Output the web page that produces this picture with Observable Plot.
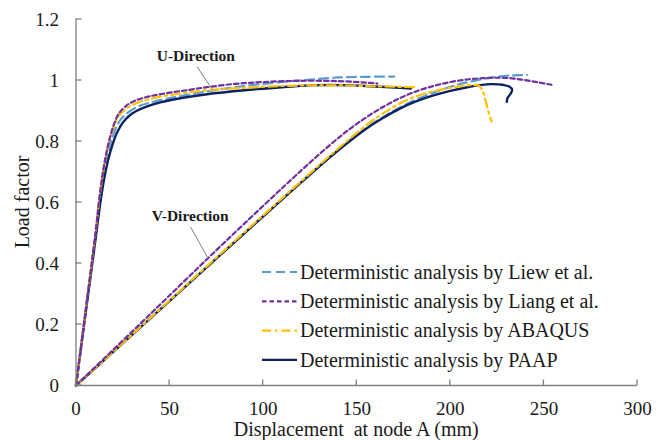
<!DOCTYPE html>
<html><head><meta charset="utf-8">
<script src="https://cdn.jsdelivr.net/npm/d3@7"></script>
<script src="https://cdn.jsdelivr.net/npm/@observablehq/plot@0.6"></script>
<style>body{margin:0;background:#fff}#chart{width:663px;height:440px}#chart svg text{font-family:"Liberation Serif",serif !important}</style>
</head><body><div id="chart"></div>
<script>
// ---- data ----
const xTicks = [0, 50, 100, 150, 200, 250, 300];
const yTicks = [0, 0.2, 0.4, 0.6, 0.8, 1.0, 1.2];
const seriesNames = [
  "Deterministic analysis by Liew et al.",
  "Deterministic analysis by Liang et al.",
  "Deterministic analysis by ABAQUS",
  "Deterministic analysis by PAAP"
];
const xTitle = "Displacement  at node A (mm)";
const yTitle = "Load factor";

// U-direction curves [displacement, load factor]
const liewU = [[0,0],[5,0.235],[10,0.47],[14,0.655],[17,0.76],[19.5,0.815],[22,0.853],[25,0.88],[29,0.9],[34,0.917],[40,0.928],[47,0.938],[55,0.948],[70,0.964],[90,0.982],[110,0.995],[125,1.003],[140,1.01],[155,1.012],[170,1.013]];
const liangU = [[0,0],[5,0.24],[10,0.48],[13,0.64],[15.5,0.74],[18,0.81],[20.5,0.86],[23,0.893],[27,0.918],[32,0.935],[40,0.949],[50,0.96],[60,0.969],[70,0.978],[85,0.989],[100,0.995],[120,0.999],[140,0.998],[155,0.993],[161,0.99]];
const abaqusU = [[0,0],[5,0.24],[10,0.48],[13,0.635],[15.5,0.735],[18,0.805],[20.5,0.853],[23,0.885],[27,0.908],[32,0.925],[40,0.94],[50,0.952],[60,0.961],[70,0.968],[90,0.976],[110,0.982],[125,0.984],[140,0.984],[160,0.981],[175,0.979],[181,0.978]];
const paapU = [[0,0],[5,0.23],[10,0.46],[14,0.64],[17,0.735],[19.5,0.79],[22,0.83],[25,0.862],[28,0.882],[32,0.899],[38,0.915],[45,0.928],[55,0.941],[70,0.955],[90,0.968],[110,0.978],[125,0.984],[140,0.985],[155,0.982],[170,0.977],[179,0.974]];

// V-direction curves
const liewV = [[0,0],[40,0.222],[80,0.445],[120,0.666],[135,0.746],[146,0.802],[156,0.848],[165,0.884],[175,0.918],[185,0.946],[195,0.969],[205,0.988],[215,1.002],[226,1.013],[234,1.017],[241,1.018]];
const liangV = [[0,0],[40,0.236],[80,0.473],[120,0.703],[135,0.785],[146,0.84],[155,0.879],[164,0.913],[173,0.942],[182,0.965],[191,0.982],[200,0.995],[210,1.004],[218,1.008],[226,1.009],[233,1.007],[240,1.001],[247,0.994],[254,0.986]];
const abaqusV = [[0,0],[40,0.223],[80,0.447],[120,0.668],[135,0.75],[146,0.808],[155,0.853],[163,0.888],[171,0.918],[180,0.944],[190,0.963],[200,0.976],[208,0.983],[213,0.985],[215.5,0.982],[217.5,0.962],[219,0.93],[220.5,0.895],[222,0.865]];
const paapV = [[0,0],[40,0.222],[80,0.444],[120,0.664],[135,0.745],[146,0.8],[156,0.846],[164,0.877],[173,0.908],[182,0.932],[191,0.951],[200,0.966],[209,0.978],[216,0.985],[222,0.988],[228,0.986],[231.5,0.98],[233,0.969],[232,0.955],[230.5,0.942],[230.2,0.93]];

// annotations (data coordinates)
const annoLabels = ["U-Direction", "V-Direction"];
const annoTextX = [64, 61];
const annoTextY = [1.081, 0.556];
const annoFromX = [64.7, 61.2];
const annoFromY = [1.045, 0.52];
const annoToX = [72.8, 70.9];
const annoToY = [0.971, 0.413];

// ---- build tables ----
const curves = [
  {name: seriesNames[0], U: liewU, V: liewV},
  {name: seriesNames[1], U: liangU, V: liangV},
  {name: seriesNames[2], U: abaqusU, V: abaqusV},
  {name: seriesNames[3], U: paapU, V: paapV}
];
const rows = curves.flatMap(c => ["U","V"].flatMap(dir => c[dir].map(([x,y]) => ({series: c.name, dir, x, y}))));
const styles = {
  [seriesNames[0]]: {stroke: "#5B9BD5", strokeWidth: 2.2, strokeDasharray: "9,5"},
  [seriesNames[1]]: {stroke: "#7030A0", strokeWidth: 2.2, strokeDasharray: "4.5,3"},
  [seriesNames[2]]: {stroke: "#FFC000", strokeWidth: 2.2, strokeDasharray: "9,4,2.5,4"},
  [seriesNames[3]]: {stroke: "#0B2363", strokeWidth: 2.4, strokeDasharray: null}
};
const drawOrder = [seriesNames[0], seriesNames[3], seriesNames[2], seriesNames[1]];
const annos = annoLabels.map((t,i) => ({t, tx: annoTextX[i], ty: annoTextY[i], x1: annoFromX[i], y1: annoFromY[i], x2: annoToX[i], y2: annoToY[i]}));

const axisGray = "#7f7f7f";
const font = "Liberation Serif";

function decor(index, scales, values, dims) {
  const g = d3.create("svg:g").attr("text-anchor", "start").attr("font-family", font);
  const X = scales.x, Y = scales.y;
  // inward ticks
  for (const t of xTicks) g.append("line").attr("x1", X(t)).attr("x2", X(t)).attr("y1", Y(0)).attr("y2", Y(0) - 5.5).attr("stroke", axisGray).attr("stroke-width", 1.3);
  for (const t of yTicks) g.append("line").attr("x1", X(0)).attr("x2", X(0) + 6).attr("y1", Y(t)).attr("y2", Y(t)).attr("stroke", axisGray).attr("stroke-width", 1.3);
  // titles
  const cx = (dims.marginLeft + dims.width - dims.marginRight) / 2;
  const cy = (dims.marginTop + dims.height - dims.marginBottom) / 2;
  g.append("text").attr("x", cx).attr("y", 436).attr("text-anchor", "middle").attr("font-size", 20).attr("fill", "#1a1a1a").style("white-space", "pre").text(xTitle);
  g.append("text").attr("transform", `translate(29,${cy}) rotate(-90)`).attr("text-anchor", "middle").attr("font-size", 20).attr("fill", "#1a1a1a").text(yTitle);
  // legend
  const legendTop = 272, legendStep = 29.3;
  seriesNames.forEach((name, i) => {
    const s = styles[name];
    const yy = legendTop + i * legendStep;
    g.append("line").attr("x1", 262).attr("x2", 297).attr("y1", yy).attr("y2", yy)
      .attr("stroke", s.stroke).attr("stroke-width", s.strokeWidth).attr("stroke-dasharray", s.strokeDasharray);
    g.append("text").attr("x", 300).attr("y", yy + 6.8).attr("text-anchor", "start").attr("font-size", 20).attr("fill", "#1a1a1a").text(name);
  });
  return g.node();
}

const chart = Plot.plot({
  width: 663, height: 440,
  marginLeft: 75.5, marginRight: 26, marginTop: 19, marginBottom: 55,
  x: {domain: [0, 300]},
  y: {domain: [0, 1.2]},
  style: {fontFamily: font, fontSize: "19px", color: "#1a1a1a", background: "#fff", overflow: "visible"},
  marks: [
    Plot.axisX(xTicks, {tickSize: 0, tickPadding: 16, fontSize: 19, fontFamily: font, label: null}),
    Plot.axisY(yTicks, {tickSize: 0, tickPadding: 17, fontSize: 19, fontFamily: font, label: null, tickFormat: d => String(+d.toFixed(1))}),
    ...drawOrder.map(name => Plot.line(rows.filter(r => r.series === name), {x: "x", y: "y", z: "dir", curve: "catmull-rom", ...styles[name]})),
    Plot.link(annos, {x1: "x1", y1: "y1", x2: "x2", y2: "y2", stroke: "#7f7f7f", strokeWidth: 1}),
    Plot.text(annos, {x: "tx", y: "ty", text: "t", fontWeight: "bold", fontSize: 15.5, fontFamily: font, fill: "#1a1a1a"}),
    Plot.ruleY([0], {stroke: axisGray, strokeWidth: 1.3}),
    Plot.ruleX([0], {stroke: axisGray, strokeWidth: 1.3}),
    decor
  ]
});
document.getElementById("chart").append(chart);
</script>
</body></html>
